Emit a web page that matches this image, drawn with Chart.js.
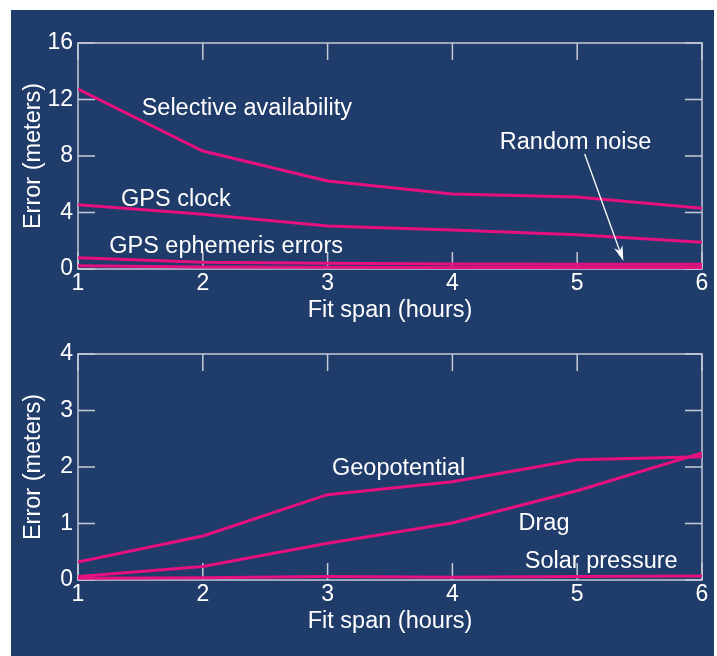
<!DOCTYPE html>
<html><head><meta charset="utf-8">
<script src="https://cdn.jsdelivr.net/npm/chart.js@4/dist/chart.umd.min.js"></script>
<style>
html,body{margin:0;padding:0;background:#fff;width:717px;height:656px;overflow:hidden;}
#panel{position:absolute;left:11px;top:10px;width:703px;height:646px;background:#203c6a;}
canvas{position:absolute;left:0;}
#c1{top:0px}
#c2{top:311px}
</style></head><body>
<div id="panel"></div>
<canvas id="c1" width="717" height="330"></canvas>
<canvas id="c2" width="717" height="330"></canvas>
<script>
// ---- data ----
const fitSpan = [1, 2, 3, 4, 5, 6];
const selectiveAvailability = [12.74, 8.35, 6.23, 5.31, 5.10, 4.30];
const gpsClock = [4.55, 3.87, 3.04, 2.76, 2.43, 1.89];
const gpsEphemeris = [0.80, 0.47, 0.40, 0.35, 0.33, 0.33];
const randomNoise = [0.23, 0.15, 0.12, 0.11, 0.10, 0.10];
const geopotential = [0.32, 0.78, 1.51, 1.74, 2.13, 2.18];
const drag = [0.06, 0.24, 0.65, 1.01, 1.58, 2.25];
const solarPressure = [0.03, 0.04, 0.06, 0.05, 0.06, 0.07];
const topYTicks = [0, 4, 8, 12, 16];
const bottomYTicks = [0, 1, 2, 3, 4];
const xTicks = [1, 2, 3, 4, 5, 6];

// ---- style ----
const AXIS = '#c6cad6', TEXT = '#ffffff', LINE = '#e6107e';
const FAMILY = "'Liberation Sans', Arial, Helvetica, sans-serif";
Chart.defaults.font.family = FAMILY;
Chart.defaults.color = TEXT;

const frame = {
  id: 'frame',
  beforeDatasetsDraw(chart) {
    const {ctx, chartArea: a, scales: {x, y}} = chart;
    const L = 17;
    ctx.save();
    ctx.strokeStyle = AXIS; ctx.lineWidth = 1.5;
    ctx.beginPath();
    x.ticks.forEach(t => { const p = x.getPixelForValue(t.value);
      ctx.moveTo(p, a.top); ctx.lineTo(p, a.top + L);
      ctx.moveTo(p, a.bottom); ctx.lineTo(p, a.bottom - L); });
    y.ticks.forEach(t => { const p = y.getPixelForValue(t.value);
      ctx.moveTo(a.left, p); ctx.lineTo(a.left + L, p);
      ctx.moveTo(a.right, p); ctx.lineTo(a.right - L, p); });
    ctx.stroke();
    ctx.strokeRect(a.left, a.top, a.right - a.left, a.bottom - a.top);
    ctx.restore();
  }
};

const notes = {
  id: 'notes',
  afterDatasetsDraw(chart, args, opts) {
    const {ctx, scales: {x, y}} = chart;
    ctx.save();
    ctx.fillStyle = TEXT; ctx.strokeStyle = TEXT;
    ctx.font = '23.5px ' + FAMILY;
    ctx.textAlign = 'left'; ctx.textBaseline = 'middle';
    (opts.items || []).forEach(n => ctx.fillText(n.text, x.getPixelForValue(n.x), y.getPixelForValue(n.y)));
    (opts.arrows || []).forEach(ar => {
      const x0 = x.getPixelForValue(ar.from[0]), y0 = y.getPixelForValue(ar.from[1]);
      const x1 = x.getPixelForValue(ar.to[0]), y1 = y.getPixelForValue(ar.to[1]);
      const ang = Math.atan2(y1 - y0, x1 - x0), hl = 15, hw = 4.5;
      ctx.lineWidth = 1.3;
      ctx.beginPath(); ctx.moveTo(x0, y0);
      ctx.lineTo(x1 - Math.cos(ang) * hl * 0.7, y1 - Math.sin(ang) * hl * 0.7); ctx.stroke();
      ctx.beginPath();
      ctx.moveTo(x1, y1);
      ctx.lineTo(x1 - Math.cos(ang) * hl - Math.sin(ang) * hw, y1 - Math.sin(ang) * hl + Math.cos(ang) * hw);
      ctx.lineTo(x1 - Math.cos(ang) * hl * 0.7, y1 - Math.sin(ang) * hl * 0.7);
      ctx.lineTo(x1 - Math.cos(ang) * hl + Math.sin(ang) * hw, y1 - Math.sin(ang) * hl - Math.cos(ang) * hw);
      ctx.closePath(); ctx.fill();
    });
    ctx.restore();
  }
};

function ds(label, vals) {
  return { label, data: fitSpan.map((v, i) => ({x: v, y: vals[i]})),
    borderColor: LINE, borderWidth: 3, pointRadius: 0, tension: 0, fill: false };
}

function makeChart(id, datasets, yMax, yTicks, noteOpts) {
  return new Chart(document.getElementById(id), {
    type: 'line',
    data: { datasets },
    options: {
      responsive: false, animation: false, devicePixelRatio: 1,
      layout: { padding: { top: 43, right: 15, left: 0, bottom: 0 } },
      plugins: { legend: { display: false }, tooltip: { enabled: false }, notes: noteOpts },
      scales: {
        x: {
          type: 'linear', min: 1, max: 6,
          afterBuildTicks: s => { s.ticks = xTicks.map(v => ({value: v})); },
          afterFit: s => { s.height = 61; },
          grid: { display: false, drawTicks: false }, border: { display: false },
          ticks: { padding: 1, font: { size: 23 }, color: TEXT },
          title: { display: true, text: 'Fit span (hours)', color: TEXT,
                   font: { size: 23.5 }, padding: { top: 0, bottom: 5 } }
        },
        y: {
          type: 'linear', min: 0, max: yMax,
          afterBuildTicks: s => { s.ticks = yTicks.map(v => ({value: v})); },
          afterFit: s => { s.width = 78; },
          grid: { display: false, drawTicks: false }, border: { display: false },
          ticks: { padding: 5, font: { size: 23 }, color: TEXT },
          title: { display: true, text: 'Error (meters)', color: TEXT,
                   font: { size: 23.5 }, padding: { top: 19, bottom: 0 } }
        }
      }
    },
    plugins: [frame, notes]
  });
}

makeChart('c1', [
  ds('Selective availability', selectiveAvailability),
  ds('GPS clock', gpsClock),
  ds('GPS ephemeris errors', gpsEphemeris),
  ds('Random noise', randomNoise)
], 16, topYTicks, {
  items: [
    {text: 'Selective availability', x: 1.51, y: 11.37},
    {text: 'GPS clock', x: 1.345, y: 4.93},
    {text: 'GPS ephemeris errors', x: 1.25, y: 1.6},
    {text: 'Random noise', x: 4.38, y: 8.96}
  ],
  arrows: [ {from: [5.06, 8.14], to: [5.37, 0.57]} ]
});

makeChart('c2', [
  ds('Geopotential', geopotential),
  ds('Drag', drag),
  ds('Solar pressure', solarPressure)
], 4, bottomYTicks, {
  items: [
    {text: 'Geopotential', x: 3.035, y: 1.975},
    {text: 'Drag', x: 4.53, y: 0.995},
    {text: 'Solar pressure', x: 4.58, y: 0.325}
  ],
  arrows: []
});
</script>
</body></html>
